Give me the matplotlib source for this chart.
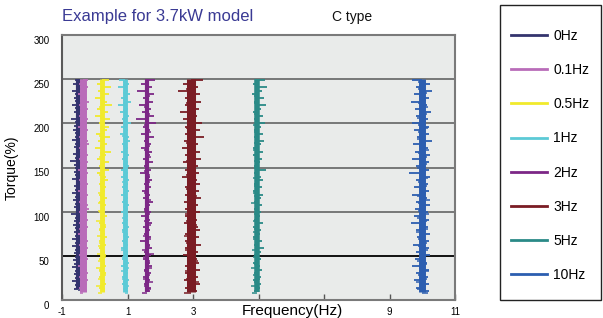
import matplotlib.pyplot as plt
import matplotlib.transforms as mtransforms
from matplotlib.patches import Rectangle
import numpy as np

plt.rcParams['font.family'] = ['Liberation Sans', 'DejaVu Sans']

# series: label, position on the frequency axis (as drawn), colour
labels = ['0Hz', '0.1Hz', '0.5Hz', '1Hz', '2Hz', '3Hz', '5Hz', '10Hz']
centers = [-0.5, -0.36, 0.22, 0.92, 1.6, 2.95, 4.95, 10.0]
colors = ['#34346e', '#b96cb9', '#f1ea2c', '#5ccad6', '#7c2786', '#7a1c24', '#2a8a87', '#2c5eb0']
# torque span of each trace (%)
tops = [250, 250, 250, 250, 250, 250, 250, 250]
bottoms = [12, 9, 9, 9, 9, 9, 9, 9]

# noise offsets, top to bottom (in frequency-axis units)
spikes = [
    [-0.1, -0.15, -0.08, -0.2, -0.1, -0.12, -0.09, -0.18, -0.1, -0.14, -0.08, -0.22, -0.1, -0.12,
     -0.16, -0.09, -0.11, -0.2, -0.1, -0.13, -0.08, -0.15, -0.1, -0.25, -0.12, -0.09, -0.14, -0.1,
     -0.18, -0.08, -0.12, -0.1, -0.2, -0.09, -0.15, -0.11, -0.13, -0.08, -0.22, -0.1, -0.12, -0.16,
     -0.09, -0.14, -0.1, -0.18, -0.11, -0.2, -0.09, -0.13, -0.1, -0.15, -0.12, -0.2, -0.1, -0.14,
     -0.09, -0.18, -0.11, -0.12],
    [0.14, -0.12, 0.16, 0.12, -0.14, 0.13, 0.17, -0.12, 0.14, 0.12, -0.13, 0.15, 0.12, -0.14,
     0.16, 0.13, -0.12, 0.14, 0.18, -0.13, 0.12, 0.15, -0.12, 0.14, 0.13, -0.14, 0.16, 0.12,
     -0.13, 0.15, 0.12, -0.14, 0.14, 0.13, -0.12, 0.15, 0.17, -0.13, 0.12, 0.14, -0.12, 0.16,
     0.13, -0.14, 0.12, 0.15, -0.13, 0.14, 0.12, -0.12, 0.16, 0.13, -0.14, 0.12, 0.15, -0.13,
     0.14, 0.12, -0.12, 0.13],
    [0.2, -0.15, 0.28, -0.12, 0.22, -0.2, 0.15, 0.3, -0.14, 0.18, -0.22, 0.25, -0.1, 0.2, 0.16,
     -0.18, 0.24, -0.12, 0.15, -0.2, 0.28, 0.12, -0.15, 0.2, -0.1, 0.22, -0.14, 0.12, 0.18,
     -0.1, 0.12, 0.1, -0.09, 0.14, -0.1, 0.12, 0.1, -0.09, 0.15, 0.1, -0.1, 0.12, -0.09, 0.1,
     0.14, -0.1, 0.11, -0.09, 0.1, 0.12, -0.1, 0.1, 0.13, -0.09, 0.11, -0.1, 0.1, 0.12, -0.09,
     0.1],
    [-0.18, 0.12, -0.22, 0.1, 0.15, -0.12, 0.18, -0.2, 0.1, -0.15, 0.13, -0.1, 0.2, -0.12,
     0.1, -0.14, 0.12, 0.16, -0.1, 0.11, -0.12, 0.14, -0.1, 0.1, 0.12, -0.13, 0.1, -0.11, 0.12,
     0.1, -0.1, 0.13, -0.12, 0.1, -0.09, 0.12, 0.1, -0.12, 0.09, 0.11, -0.1, 0.12, -0.09, 0.1,
     0.13, -0.1, 0.1, -0.12, 0.11, 0.09, -0.1, 0.12, -0.11, 0.1, 0.09, -0.1, 0.12, -0.09, 0.1,
     0.11],
    [0.25, -0.2, 0.15, -0.3, 0.22, -0.12, 0.18, -0.25, 0.12, -0.15, 0.2, -0.35, 0.28, -0.12,
     0.1, -0.18, 0.22, -0.1, 0.12, -0.2, 0.15, 0.1, -0.12, 0.18, -0.1, 0.12, -0.22, 0.1, 0.15,
     -0.1, 0.12, -0.15, 0.1, -0.12, 0.18, 0.1, -0.1, 0.12, -0.2, 0.1, 0.14, -0.12, 0.1, -0.1,
     0.12, -0.22, 0.1, 0.15, -0.1, 0.12, -0.12, 0.1, 0.16, -0.1, 0.12, -0.14, 0.1, -0.1, 0.12,
     0.1],
    [0.35, -0.25, 0.2, -0.4, 0.25, -0.2, 0.3, -0.18, 0.22, -0.35, 0.18, -0.25, 0.32, -0.2, 0.25,
     -0.18, 0.38, -0.22, 0.2, -0.3, 0.25, -0.18, 0.3, -0.25, 0.2, -0.18, 0.22, -0.28, 0.18, 0.25,
     -0.2, 0.22, -0.18, 0.28, -0.22, 0.2, -0.18, 0.25, -0.2, 0.18, -0.22, 0.2, 0.25, -0.18,
     0.22, -0.2, 0.28, -0.18, 0.2, -0.25, 0.18, 0.22, -0.2, 0.25, -0.18, 0.2, -0.22, 0.25, -0.2,
     0.18],
    [0.25, -0.12, 0.3, 0.15, -0.14, 0.22, -0.1, 0.28, 0.14, -0.12, 0.2, -0.1, 0.25, 0.12,
     -0.1, 0.18, -0.1, 0.22, 0.13, -0.11, 0.18, -0.12, 0.15, 0.11, -0.1, 0.28, -0.1, 0.13,
     0.18, -0.1, 0.15, -0.11, 0.2, 0.12, -0.1, 0.16, -0.1, 0.14, 0.11, -0.1, 0.18, -0.12, 0.13,
     0.1, -0.11, 0.15, -0.1, 0.22, 0.12, -0.1, 0.14, -0.12, 0.11, 0.16, -0.1, 0.13, -0.11, 0.12,
     0.1, -0.1],
    [-0.3, 0.25, -0.18, 0.3, -0.25, 0.2, -0.35, 0.15, -0.22, 0.28, -0.2, 0.18, -0.3, 0.22,
     -0.25, 0.2, -0.15, 0.3, -0.28, 0.18, -0.22, 0.25, -0.32, 0.2, -0.18, 0.22, -0.4, 0.25,
     -0.2, 0.18, -0.25, 0.22, -0.3, 0.15, -0.2, 0.25, -0.22, 0.18, -0.25, 0.2, -0.35, 0.18,
     -0.2, 0.25, -0.15, 0.22, -0.28, 0.2, -0.18, 0.25, -0.22, 0.15, -0.3, 0.2, -0.2, 0.18,
     -0.25, 0.22, -0.18, 0.2],
]
core_widths = [3.0, 5.0, 3.5, 3.5, 3.0, 6.5, 4.0, 5.0]

x_ticks = [-1, 1, 3, 5, 7, 9, 11]
x_ticklabels = ['-1', '1', '3', '', '', '9', '11']
y_ticks = [0, 50, 100, 150, 200, 250, 300]
grid_colors = ['#000000', '#6e6e6e', '#6e6e6e', '#6e6e6e', '#6e6e6e']

fig = plt.figure(figsize=(6.03, 3.18), dpi=100)
ax = fig.add_axes([62 / 603, 1 - 300 / 318, 393 / 603, 265 / 318])
ax.set_facecolor('#e9ebea')

for y, gc in zip(y_ticks[1:-1], grid_colors):
    ax.axhline(y, color=gc, lw=1.3, zorder=1)

for lab, c, col, t, b, sp, cw in zip(labels, centers, colors, tops, bottoms, spikes, core_widths):
    sp = np.array(sp)
    ax.plot([c, c], [b, t], color=col, lw=cw, solid_capstyle='butt', zorder=2, label=lab)
    ys = np.linspace(t - 1, b + 1, len(sp))
    step = ys[1] - ys[0]
    ax.hlines(ys, c, c + sp, color=col, lw=1.3, zorder=2)
    ax.hlines(ys + step / 2, c, c - 0.6 * sp[::-1], color=col, lw=1.1, zorder=2)

ax.set_xlim(-1, 11)
ax.set_ylim(0, 300)
ax.set_xticks(x_ticks)
ax.set_xticklabels(x_ticklabels, fontsize=7)
ax.set_yticks(y_ticks)
ax.set_yticklabels([str(v) for v in y_ticks], fontsize=7)
ax.tick_params(axis='x', direction='in', length=4, width=1, color='#555555', pad=5)
ax.tick_params(axis='y', length=0, pad=9)
shift = mtransforms.ScaledTranslation(0, -5 / 100, fig.dpi_scale_trans)
for tl in ax.get_yticklabels():
    tl.set_transform(tl.get_transform() + shift)

for s in ['top', 'right', 'bottom']:
    ax.spines[s].set_color('#7a7a7a')
    ax.spines[s].set_linewidth(1.5)
ax.spines['left'].set_color('#5a5a5a')
ax.spines['left'].set_linewidth(1.5)

ax.set_ylabel('Torque(%)', fontsize=10)
ax.yaxis.set_label_coords(-0.11, 0.5)
ax.set_xlabel('Frequency(Hz)', fontsize=11, va='top')
ax.xaxis.set_label_coords((292 - 62) / 393, -0.015)

fig.text(62 / 603, 1 - 17 / 318, 'Example for 3.7kW model', color='#3a3a94',
         fontsize=12, va='center', ha='left')
fig.text(332 / 603, 1 - 17 / 318, 'C type', color='#111111', fontsize=10, va='center', ha='left')

# legend box
fig.patches.append(Rectangle((500 / 603, 1 - 300 / 318), 101 / 603, 295 / 318,
                             transform=fig.transFigure, facecolor='white',
                             edgecolor='#222222', lw=1.0, zorder=0))
handles = [plt.Line2D([], [], color=col, lw=2) for col in colors]
leg = fig.legend(handles, labels, loc='upper left', bbox_to_anchor=(511 / 603, 1 - 29 / 318),
                 frameon=False, fontsize=10, labelspacing=1.45, handlelength=2.6,
                 handletextpad=0.45, borderpad=0, borderaxespad=0)

fig.savefig('out.png', dpi=100)
